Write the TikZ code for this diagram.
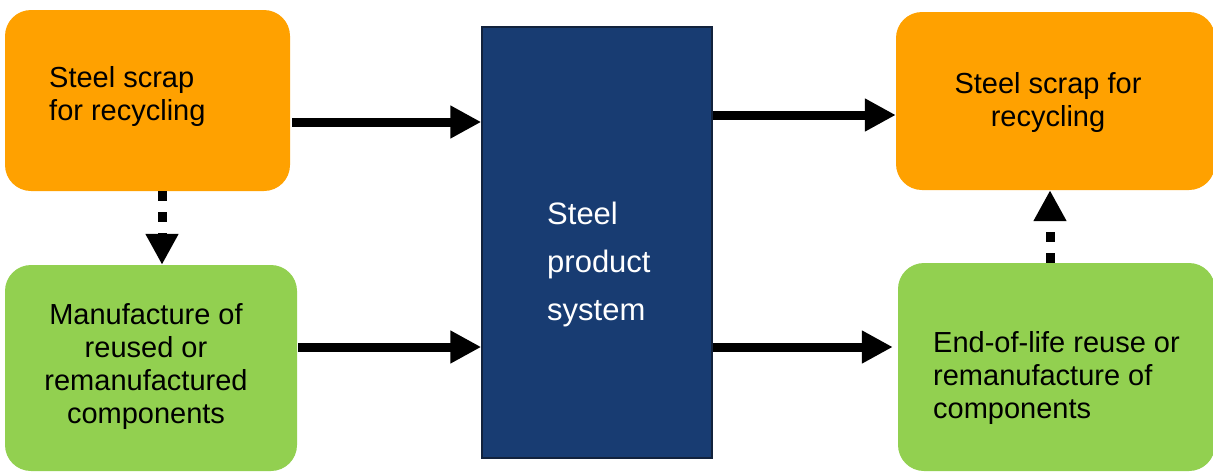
\documentclass[tikz,border=0pt]{standalone}
\usepackage{fontspec}
\setmainfont{Liberation Sans}
\usetikzlibrary{arrows.meta}

\definecolor{scrap}{RGB}{255,161,0}
\definecolor{reuse}{RGB}{146,208,80}
\definecolor{system}{RGB}{24,60,114}
\definecolor{systemedge}{RGB}{18,34,60}

\tikzset{
  box/.style={rectangle, rounded corners=26pt, inner sep=0pt, draw=none},
  scrapbox/.style={box, fill=scrap},
  reusebox/.style={box, fill=reuse},
  sysbox/.style={rectangle, inner sep=0pt, fill=system, draw=systemedge, line width=1.5pt},
  label/.style={inner sep=0pt, font=\fontsize{29}{33}\selectfont},
  flow/.style={line width=9pt, -{Triangle[length=31pt,width=31pt]}},
  dotflow/.style={flow, dash pattern=on 10pt off 11pt},
}

\begin{document}
\begin{tikzpicture}[x=1pt, y=-1pt]
  \useasboundingbox (0,0) rectangle (1213,472);

  % boxes
  \node[scrapbox, minimum width=285pt, minimum height=181pt] (inscrap) at (147.5,100.5) {};
  \node[reusebox, minimum width=292pt, minimum height=206pt] (inreuse) at (151,368) {};
  \node[sysbox, minimum width=230pt, minimum height=431pt] (sys) at (597,242.5) {};
  \node[scrapbox, minimum width=319pt, minimum height=178pt] (outscrap) at (1055.5,101) {};
  \node[reusebox, minimum width=317pt, minimum height=208pt] (outreuse) at (1056.5,367) {};

  % texts (anchored at the baseline of their last line)
  \node[label, align=left, anchor=base west] (tinscrap) at (49,120)
    {Steel scrap\\for recycling};
  \node[label, align=center, anchor=base] (tinreuse) at (146,423)
    {Manufacture of\\reused or\\remanufactured\\components};
  \node[label, align=left, anchor=base west, text=white,
        font=\fontsize{31}{48}\selectfont] (tsys) at (547,320)
    {Steel\\product\\system};
  \node[label, align=center, anchor=base] (toutscrap) at (1048,126)
    {Steel scrap for\\recycling};
  \node[label, align=left, anchor=base west] (toutreuse) at (933,418)
    {End-of-life reuse or\\remanufacture of\\components};

  % material flows
  \draw[flow, shorten <=2pt] (inscrap.east |- 0,122) -- (sys.west |- 0,122);
  \draw[flow, shorten <=1pt] (inreuse.east |- 0,347) -- (sys.west |- 0,347);
  \draw[flow] (sys.east |- 0,115) -- (outscrap.west |- 0,115);
  \draw[flow, shorten >=5pt] (sys.east |- 0,347) -- (outreuse.west |- 0,347);

  % dotted links
  \draw[dotflow] (inscrap.south -| 162,0) -- (inreuse.north -| 162,0);
  \draw[dotflow] (outreuse.north -| 1050,0) -- (outscrap.south -| 1050,0);
\end{tikzpicture}
\end{document}
